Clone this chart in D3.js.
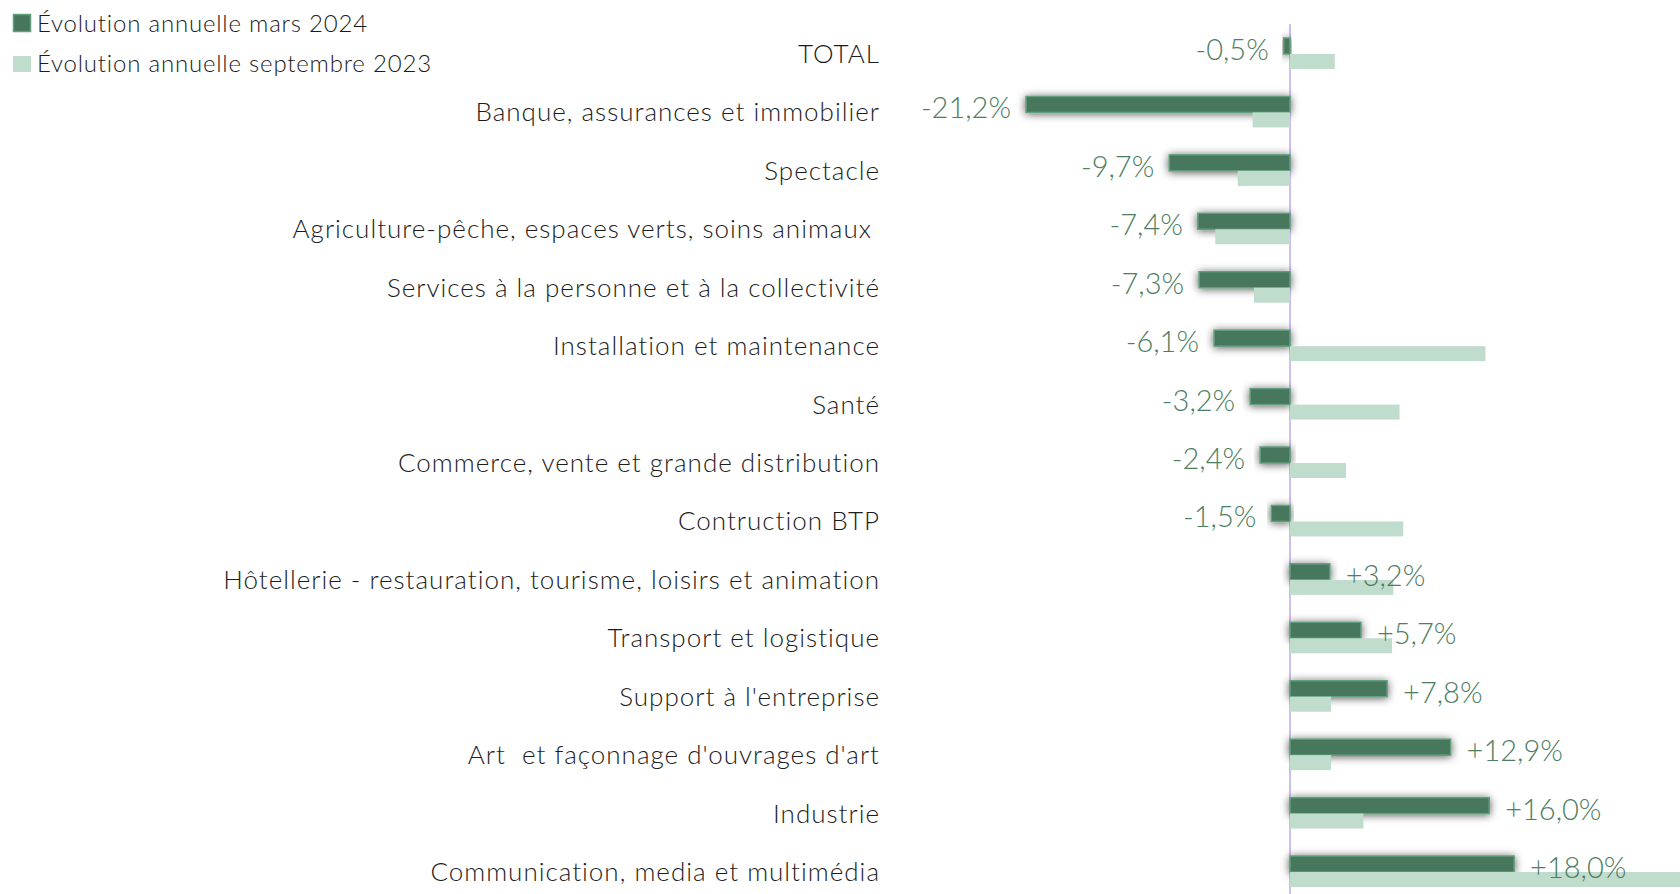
<!DOCTYPE html>
<html>
<head>
<meta charset="utf-8">
<script src="https://cdn.jsdelivr.net/npm/d3@7"></script>
<style>
  html, body { margin: 0; padding: 0; background: #fff; overflow: hidden; }
  svg { display: block; }
</style>
</head>
<body>
<script>
  // Categories, top to bottom
  const categories = [
    'TOTAL',
    'Banque, assurances et immobilier',
    'Spectacle',
    'Agriculture-pêche, espaces verts, soins animaux ',
    'Services à la personne et à la collectivité',
    'Installation et maintenance',
    'Santé',
    'Commerce, vente et grande distribution',
    'Contruction BTP',
    'Hôtellerie - restauration, tourisme, loisirs et animation',
    'Transport et logistique',
    "Support à l'entreprise",
    "Art  et façonnage d'ouvrages d'art",
    'Industrie',
    'Communication, media et multimédia',
  ]

  // Évolution annuelle mars 2024 (%)
  const mars2024 = [-0.5, -21.2, -9.7, -7.4, -7.3, -6.1, -3.2, -2.4, -1.5, 3.2, 5.7, 7.8, 12.9, 16.0, 18.0]

  // Évolution annuelle septembre 2023 (%)
  const sept2023 = [3.6, -3.0, -4.2, -6.0, -2.9, 15.7, 8.8, 4.5, 9.1, 8.3, 8.2, 3.3, 3.3, 5.9, 32.0]

  const seriesNames = ['Évolution annuelle mars 2024', 'Évolution annuelle septembre 2023']

  const width = 1680
  const height = 894

  const darkColor = '#47775b'
  const darkStroke = '#629f7b'
  const lightColor = '#c0dccd'
  const labelColor = '#4d7e62'
  const textColor = '#1c1c1c'
  const font = 'Lato, "Open Sans", sans-serif'

  const svg = d3
    .select(document.body)
    .append('svg')
    .attr('width', width)
    .attr('height', height)

  // Soft shadow around the dark bars
  const filter = svg
    .append('defs')
    .append('filter')
    .attr('id', 'shadow')
    .attr('x', '-20%')
    .attr('y', '-100%')
    .attr('width', '140%')
    .attr('height', '300%')
  filter
    .append('feDropShadow')
    .attr('dx', 0)
    .attr('dy', 1)
    .attr('stdDeviation', 4)
    .attr('flood-color', '#000')
    .attr('flood-opacity', 0.65)

  // Scales
  const x = d3.scaleLinear().domain([-25, 35]).range([978.75, 1725.75])

  const step = 58.43
  const y = d3
    .scaleBand()
    .domain(categories)
    .range([54 - step / 2, 54 + step * (categories.length - 0.5)])
    .padding(0)

  const rowCenter = (c) => y(c) + y.bandwidth() / 2

  const rows = categories.map((c, i) => ({ cat: c, a: mars2024[i], b: sept2023[i] }))

  // Zero line
  svg
    .append('line')
    .attr('x1', x(0))
    .attr('x2', x(0))
    .attr('y1', 24)
    .attr('y2', height)
    .attr('stroke', '#cdbdf5')
    .attr('stroke-width', 2)

  // Dark bars (mars 2024)
  svg
    .append('g')
    .selectAll('rect')
    .data(rows)
    .enter()
    .append('rect')
    .attr('x', (d) => x(Math.min(0, d.a)))
    .attr('y', (d) => rowCenter(d.cat) - 16)
    .attr('width', (d) => Math.abs(x(d.a) - x(0)))
    .attr('height', 16)
    .attr('fill', darkColor)
    .attr('stroke', darkStroke)
    .attr('stroke-width', 1.5)
    .attr('filter', 'url(#shadow)')

  // Light bars (septembre 2023)
  svg
    .append('g')
    .selectAll('rect')
    .data(rows)
    .enter()
    .append('rect')
    .attr('x', (d) => x(Math.min(0, d.b)))
    .attr('y', (d) => rowCenter(d.cat))
    .attr('width', (d) => Math.abs(x(d.b) - x(0)))
    .attr('height', 15)
    .attr('fill', lightColor)

  // Category labels
  svg
    .append('g')
    .selectAll('text')
    .data(categories)
    .enter()
    .append('text')
    .attr('x', 880)
    .attr('y', (d) => rowCenter(d) + 9)
    .attr('text-anchor', 'end')
    .attr('font-family', font)
    .attr('font-weight', 300)
    .attr('font-size', 26)
    .attr('letter-spacing', 1)
    .attr('fill', textColor)
    .style('white-space', 'pre')
    .text((d) => d)

  // Value labels
  const fmt = (v) => (v > 0 ? '+' : '') + v.toFixed(1).replace('.', ',') + '%'
  svg
    .append('g')
    .selectAll('text')
    .data(rows)
    .enter()
    .append('text')
    .attr('x', (d) => (d.a < 0 ? x(d.a) - 15 : x(d.a) + 16))
    .attr('y', (d) => rowCenter(d.cat) + 6)
    .attr('text-anchor', (d) => (d.a < 0 ? 'end' : 'start'))
    .attr('font-family', font)
    .attr('font-weight', 300)
    .attr('font-size', 29)
    .attr('fill', labelColor)
    .text((d) => fmt(d.a))

  // Legend
  const legend = svg
    .append('g')
    .selectAll('g')
    .data(seriesNames)
    .enter()
    .append('g')
    .attr('transform', (d, i) => `translate(0,${i * 40})`)

  legend
    .append('rect')
    .attr('x', (d, i) => (i === 0 ? 13.5 : 13))
    .attr('y', (d, i) => (i === 0 ? 14.5 : 16))
    .attr('width', (d, i) => (i === 0 ? 17 : 18))
    .attr('height', (d, i) => (i === 0 ? 17 : 16))
    .attr('fill', (d, i) => (i === 0 ? darkColor : lightColor))
    .attr('stroke', (d, i) => (i === 0 ? darkStroke : 'none'))
    .attr('stroke-width', 1.5)

  legend
    .append('text')
    .attr('x', 37)
    .attr('y', 32)
    .attr('font-family', font)
    .attr('font-weight', 300)
    .attr('font-size', 24)
    .attr('letter-spacing', 0.8)
    .attr('fill', textColor)
    .text((d) => d)
</script>
</body>
</html>
